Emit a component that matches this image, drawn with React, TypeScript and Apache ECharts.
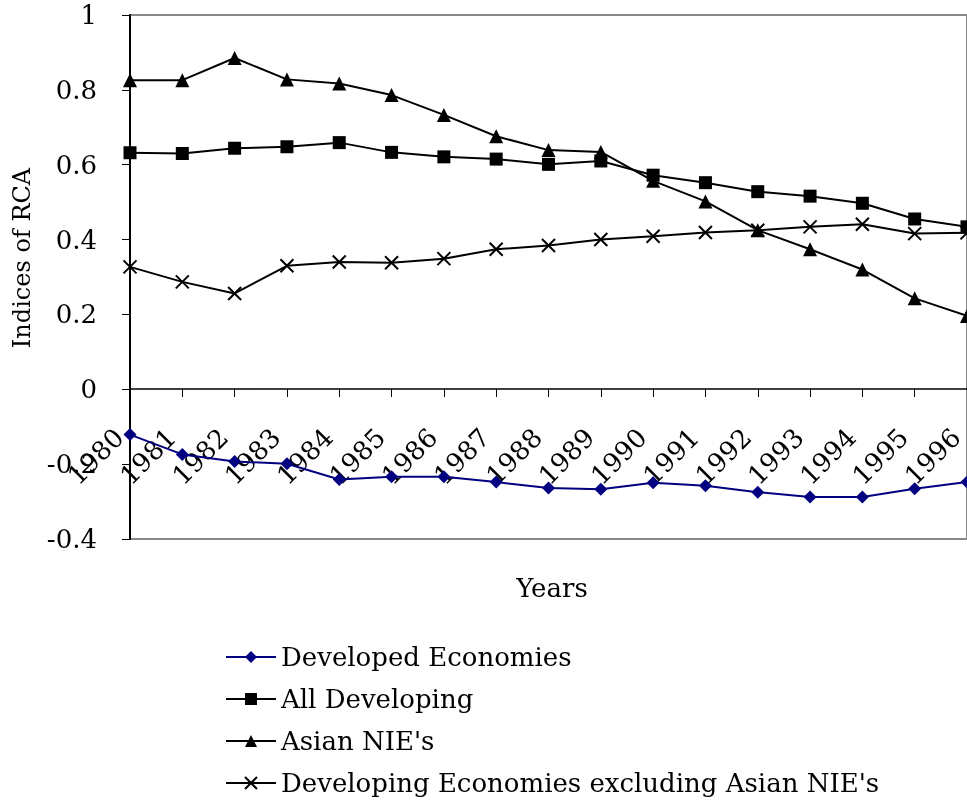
import React, { useEffect, useRef } from "react";
import * as echarts from "echarts";

const years = ["1980","1981","1982","1983","1984","1985","1986","1987","1988","1989","1990","1991","1992","1993","1994","1995","1996"];
const developed = [-0.121,-0.174,-0.193,-0.199,-0.241,-0.234,-0.234,-0.248,-0.264,-0.267,-0.250,-0.258,-0.275,-0.288,-0.288,-0.266,-0.248];
const allDeveloping = [0.632,0.630,0.644,0.648,0.659,0.633,0.621,0.615,0.601,0.610,0.572,0.552,0.528,0.516,0.497,0.455,0.434];
const asianNIEs = [0.826,0.826,0.885,0.828,0.817,0.786,0.733,0.676,0.639,0.634,0.557,0.502,0.425,0.374,0.320,0.243,0.196];
const devExNIEs = [0.327,0.287,0.256,0.330,0.340,0.338,0.349,0.374,0.384,0.400,0.409,0.419,0.425,0.434,0.441,0.416,0.418];

const seriesNames = ["Developed Economies","All Developing","Asian NIE's","Developing Economies excluding Asian NIE's"];
const FONT = "DejaVu Serif";

export default function App() {
  const ref = useRef<HTMLDivElement>(null);
  useEffect(() => {
    if (!ref.current) return;
    const chart = echarts.init(ref.current, null, { renderer: "svg" });
    const mk = (name: string, data: number[], color: string, symbol: string, size: number, border = 0) => ({
      name,
      type: "line",
      data,
      symbol,
      symbolSize: size,
      showSymbol: true,
      clip: false,
      xAxisIndex: 0,
      yAxisIndex: 0,
      lineStyle: { color, width: 2 },
      itemStyle: { color, borderColor: color, borderWidth: border },
      emphasis: { disabled: true },
    });
    const yBase = { type: "value", min: -0.4, max: 1, interval: 0.2, splitLine: { show: false } };
    chart.setOption({
      animation: false,
      textStyle: { fontFamily: FONT },
      grid: [
        {
          left: 130, right: 0, top: 15, bottom: 262,
          containLabel: false, outerBoundsMode: "none",
          show: true, borderColor: "#888", borderWidth: 2, backgroundColor: "transparent",
        },
        {
          left: 119, right: 11, top: 15, bottom: 262,
          containLabel: false, outerBoundsMode: "none", show: false,
        },
      ],
      xAxis: [
        {
          type: "category",
          gridIndex: 0,
          data: years,
          position: "bottom",
          boundaryGap: false,
          offset: -150,
          axisLine: { onZero: false, lineStyle: { color: "#000", width: 1.5 } },
          axisTick: { show: true, length: 8, lineStyle: { color: "#000", width: 1 } },
          axisLabel: { show: false },
          splitLine: { show: false },
        },
        {
          type: "category",
          gridIndex: 1,
          data: years,
          position: "bottom",
          boundaryGap: false,
          offset: -114,
          axisLine: { show: false, onZero: false },
          axisTick: { show: false },
          axisLabel: { rotate: 45, fontSize: 26, color: "#000", fontFamily: FONT, interval: 0, hideOverlap: false },
          splitLine: { show: false },
        },
      ],
      yAxis: [
        {
          ...yBase,
          gridIndex: 0,
          position: "left",
          axisLine: { show: true, onZero: false, lineStyle: { color: "#000", width: 2 } },
          axisTick: { show: true, length: 8, lineStyle: { color: "#000", width: 1 } },
          axisLabel: { show: false },
        },
        {
          ...yBase,
          gridIndex: 0,
          position: "left",
          offset: 25,
          axisLine: { show: false, onZero: false },
          axisTick: { show: false },
          axisLabel: { fontSize: 26, color: "#000", fontFamily: FONT, hideOverlap: false },
        },
        {
          ...yBase,
          gridIndex: 1,
          show: false,
        },
      ],
      legend: {
        orient: "vertical",
        left: 225,
        top: 644,
        padding: 0,
        itemGap: 16,
        itemWidth: 50,
        itemHeight: 15,
        textStyle: { fontSize: 26, color: "#000", fontFamily: FONT },
        data: seriesNames,
      },
      graphic: [
        { type: "text", x: 22, y: 258, rotation: Math.PI / 2, style: { text: "Indices of RCA", fontSize: 24, fontFamily: FONT, fill: "#000", textAlign: "center", textVerticalAlign: "middle" } },
        { type: "text", x: 552, y: 588, style: { text: "Years", fontSize: 26, fontFamily: FONT, fill: "#000", textAlign: "center", textVerticalAlign: "middle" } },
      ],
      series: [
        mk(seriesNames[0], developed, "#000080", "diamond", 13),
        mk(seriesNames[1], allDeveloping, "#000", "rect", 13),
        mk(seriesNames[2], asianNIEs, "#000", "triangle", 14),
        mk(seriesNames[3], devExNIEs, "#000", "path://M0,0L10,10M10,0L0,10", 13, 2),
      ],
    });
    return () => chart.dispose();
  }, []);
  return <div ref={ref} style={{ position: "fixed", left: 0, top: 0, width: 967, height: 801 }} />;
}
